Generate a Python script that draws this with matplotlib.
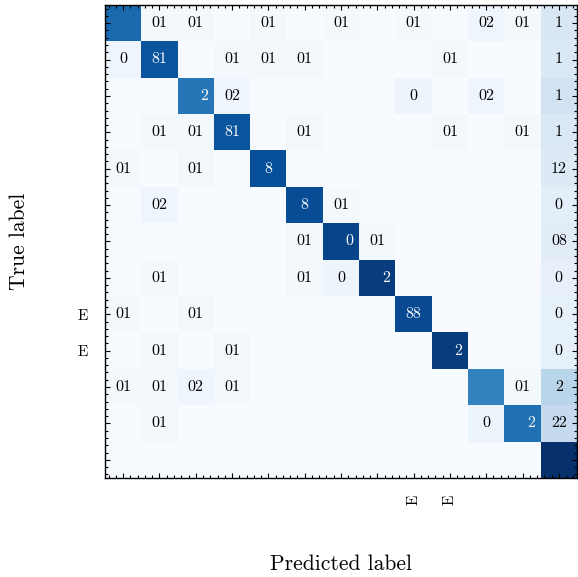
import numpy as np
import matplotlib
matplotlib.use('Agg')
import matplotlib.pyplot as plt
from matplotlib.ticker import AutoMinorLocator

plt.rcParams['font.family'] = ['cmr10', 'DejaVu Serif']
plt.rcParams['mathtext.fontset'] = 'cm'
plt.rcParams['axes.unicode_minus'] = False
plt.rcParams['axes.formatter.use_mathtext'] = True

# normalised confusion matrix (colour scale)
cm_vals = [
    [0.78, 0.02, 0.02, 0.00, 0.02, 0.00, 0.02, 0.00, 0.02, 0.00, 0.04, 0.02, 0.15],
    [0.04, 0.86, 0.00, 0.02, 0.02, 0.02, 0.00, 0.00, 0.00, 0.02, 0.00, 0.00, 0.14],
    [0.00, 0.00, 0.73, 0.04, 0.00, 0.00, 0.00, 0.00, 0.05, 0.00, 0.04, 0.00, 0.19],
    [0.00, 0.02, 0.02, 0.86, 0.00, 0.02, 0.00, 0.00, 0.00, 0.02, 0.00, 0.02, 0.145],
    [0.02, 0.00, 0.02, 0.00, 0.88, 0.00, 0.00, 0.00, 0.00, 0.00, 0.00, 0.00, 0.13],
    [0.00, 0.04, 0.00, 0.00, 0.00, 0.89, 0.02, 0.00, 0.00, 0.00, 0.00, 0.00, 0.10],
    [0.00, 0.00, 0.00, 0.00, 0.00, 0.02, 0.92, 0.02, 0.00, 0.00, 0.00, 0.00, 0.11],
    [0.00, 0.02, 0.00, 0.00, 0.00, 0.02, 0.05, 0.95, 0.00, 0.00, 0.00, 0.00, 0.08],
    [0.02, 0.00, 0.02, 0.00, 0.00, 0.00, 0.00, 0.00, 0.90, 0.00, 0.00, 0.00, 0.085],
    [0.00, 0.02, 0.00, 0.02, 0.00, 0.00, 0.00, 0.00, 0.00, 0.955, 0.00, 0.00, 0.085],
    [0.02, 0.02, 0.04, 0.02, 0.00, 0.00, 0.00, 0.00, 0.00, 0.00, 0.68, 0.02, 0.29],
    [0.00, 0.02, 0.00, 0.00, 0.00, 0.00, 0.00, 0.00, 0.00, 0.00, 0.06, 0.75, 0.25],
    [0.00, 0.00, 0.00, 0.00, 0.00, 0.00, 0.00, 0.00, 0.00, 0.00, 0.00, 0.00, 1.00],
]

# the strings printed in the cells, exactly as they appear
cell_text = [
    ['', '01', '01', '', '01', '', '01', '', '01', '', '02', '01', '1'],
    ['0', '81', '', '01', '01', '01', '', '', '', '01', '', '', '1'],
    ['', '', '2', '02', '', '', '', '', '0', '', '02', '', '1'],
    ['', '01', '01', '81', '', '01', '', '', '', '01', '', '01', '1'],
    ['01', '', '01', '', '8', '', '', '', '', '', '', '', '12'],
    ['', '02', '', '', '', '8', '01', '', '', '', '', '', '0'],
    ['', '', '', '', '', '01', '0', '01', '', '', '', '', '08'],
    ['', '01', '', '', '', '01', '0', '2', '', '', '', '', '0'],
    ['01', '', '01', '', '', '', '', '', '88', '', '', '', '0'],
    ['', '01', '', '01', '', '', '', '', '', '2', '', '', '0'],
    ['01', '01', '02', '01', '', '', '', '', '', '', '', '01', '2'],
    ['', '01', '', '', '', '', '', '', '', '', '0', '2', '22'],
    ['', '', '', '', '', '', '', '', '', '', '', '', ''],
]

# these diagonal labels sit toward the right of their cell
tail_cells = [(2, 2), (6, 6), (7, 7), (9, 9), (11, 11)]

x_ticklabels = ['', '', '', '', '', '', '', '', 'E', 'E', '', '', '']
y_ticklabels = ['', '', '', '', '', '', '', '', 'E', 'E', '', '', '']

cm = np.array(cm_vals)
n = cm.shape[0]

fig = plt.figure(figsize=(5.78, 5.77), dpi=100)
ax = fig.add_axes([105 / 578, 1 - 478 / 577, 472 / 578, 473 / 577])

ax.imshow(cm, cmap='Blues', vmin=0, vmax=1, interpolation='nearest', aspect='auto')

for i in range(n):
    for j in range(n):
        s = cell_text[i][j]
        if s == '':
            continue
        col = 'white' if cm[i, j] > 0.5 else 'black'
        if (i, j) in tail_cells:
            ax.text(j + 0.34, i, s, ha='right', va='center', color=col, fontsize=11.5)
        else:
            ax.text(j, i, s, ha='center', va='center', color=col, fontsize=11.5)

ax.set_xticks(np.arange(n))
ax.set_yticks(np.arange(n))
ax.set_xticklabels(x_ticklabels, rotation=90, fontsize=11)
ax.set_yticklabels(y_ticklabels, fontsize=11)
ax.set_xlim(-0.5, n - 0.5)
ax.set_ylim(n - 0.5, -0.5)

ax.xaxis.set_minor_locator(AutoMinorLocator(5))
ax.yaxis.set_minor_locator(AutoMinorLocator(5))
ax.tick_params(which='both', direction='in', top=True, right=True, width=0.8)
ax.tick_params(which='major', length=3.5, pad=12)
ax.tick_params(which='minor', length=2)
for sp in ax.spines.values():
    sp.set_linewidth(1.0)

ax.set_xlabel('Predicted label', fontsize=15.5)
ax.set_ylabel('True label', fontsize=15.5)
ax.xaxis.set_label_coords(0.5, -0.162)
ax.yaxis.set_label_coords(-0.16, 0.5)

plt.savefig('out.png', dpi=100)
